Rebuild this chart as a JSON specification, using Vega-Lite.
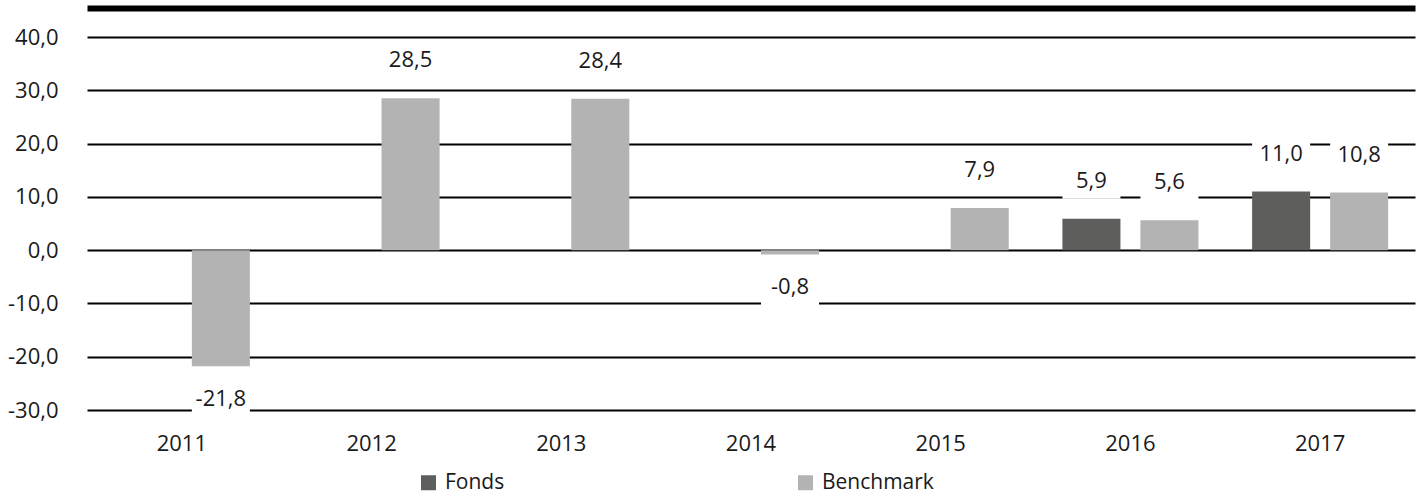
{
  "$schema": "https://vega.github.io/schema/vega-lite/v6.json",
  "width": 1328,
  "height": 373,
  "autosize": {"type": "none"},
  "padding": {"left": 87, "top": 37, "right": 6, "bottom": 85},
  "background": "white",
  "config": {
    "view": {"stroke": null},
    "font": "Open Sans",
    "locale": {"number": {"decimal": ",", "thousands": ".", "grouping": [3], "currency": ["", " €"], "minus": "-"}},
    "text": {"font": "Open Sans", "fontSize": 22, "color": "#1a1a1a"}
  },
  "data": {
    "values": [
      {"year": "2011", "series": "Benchmark", "value": -21.8},
      {"year": "2012", "series": "Benchmark", "value": 28.5},
      {"year": "2013", "series": "Benchmark", "value": 28.4},
      {"year": "2014", "series": "Benchmark", "value": -0.8},
      {"year": "2015", "series": "Benchmark", "value": 7.9},
      {"year": "2016", "series": "Fonds", "value": 5.9},
      {"year": "2016", "series": "Benchmark", "value": 5.6},
      {"year": "2017", "series": "Fonds", "value": 11.0},
      {"year": "2017", "series": "Benchmark", "value": 10.8}
    ]
  },
  "resolve": {"axis": {"x": "independent"}},
  "encoding": {
    "x": {
      "field": "year", "type": "nominal",
      "scale": {"domain": ["2011","2012","2013","2014","2015","2016","2017"], "paddingInner": 0, "paddingOuter": 0}
    },
    "xOffset": {
      "field": "series", "type": "nominal",
      "scale": {"domain": ["Fonds", "Benchmark"], "paddingInner": 0.256, "paddingOuter": 0.344}
    },
    "y": {
      "field": "value", "type": "quantitative",
      "scale": {"domain": [-30, 40], "nice": false, "zero": false},
      "axis": {"title": null, "values": [-30,-20,-10,0,10,20,30,40], "format": ".1f", "domain": false, "ticks": false, "grid": true, "gridColor": "#000000", "gridWidth": 2, "gridOpacity": 1, "labelFontSize": 22, "labelFont": "Open Sans", "labelColor": "#1a1a1a", "labelPadding": 29}
    }
  },
  "layer": [
    {
      "mark": {"type": "bar"},
      "encoding": {
        "x": {
          "field": "year", "type": "nominal",
          "axis": {"orient": "bottom", "title": null, "domain": false, "ticks": false, "labelAngle": 0, "labelFontSize": 22, "labelFont": "Open Sans", "labelColor": "#1a1a1a", "labelPadding": 23}
        },
        "color": {
          "field": "series", "type": "nominal",
          "scale": {"domain": ["Fonds", "Benchmark"], "range": ["#5e5e5c", "#b3b3b3"]},
          "legend": {"title": null, "orient": "none", "legendX": 331, "legendY": 435, "direction": "horizontal", "symbolType": "square", "symbolSize": 225, "symbolStrokeWidth": 0, "symbolOpacity": 1, "labelFontSize": 21, "labelFont": "Open Sans", "labelColor": "#1a1a1a", "labelOffset": 6, "labelLimit": 300, "columnPadding": 290, "padding": 0}
        }
      }
    },
    {
      "transform": [{"filter": {"field": "value", "gte": 0}}],
      "mark": {"type": "point", "shape": "M-1,-0.62H1V0.62H-1Z", "filled": true, "color": "white", "opacity": 1, "size": 3364, "strokeWidth": 0, "yOffset": -38},
      "encoding": {
        "x": {
          "field": "year", "type": "nominal",
          "axis": {"orient": "top", "title": null, "labels": false, "ticks": false, "grid": false, "domain": true, "domainColor": "#000000", "domainWidth": 6, "offset": 29}
        }
      }
    },
    {
      "transform": [{"filter": {"field": "value", "lt": 0}}],
      "mark": {"type": "point", "shape": "M-1,-0.62H1V0.62H-1Z", "filled": true, "color": "white", "opacity": 1, "size": 3364, "strokeWidth": 0, "yOffset": 33},
      "encoding": {"x": {"field": "year", "type": "nominal", "axis": null}}
    },
    {
      "transform": [{"filter": {"field": "value", "gte": 0}}],
      "mark": {"type": "text", "baseline": "middle", "align": "center", "dy": -38},
      "encoding": {
        "x": {"field": "year", "type": "nominal", "axis": null},
        "text": {"field": "value", "type": "quantitative", "format": ".1f"}
      }
    },
    {
      "transform": [{"filter": {"field": "value", "lt": 0}}],
      "mark": {"type": "text", "baseline": "middle", "align": "center", "dy": 33},
      "encoding": {
        "x": {"field": "year", "type": "nominal", "axis": null},
        "text": {"field": "value", "type": "quantitative", "format": ".1f"}
      }
    }
  ]
}
